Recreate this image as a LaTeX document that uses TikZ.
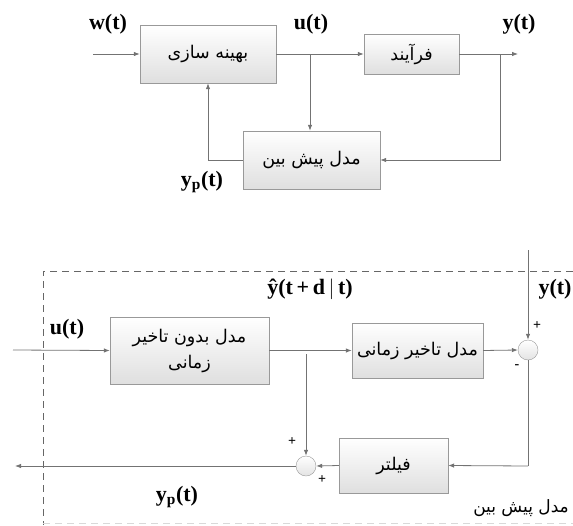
\documentclass[tikz,border=0pt]{standalone}
\usepackage{fontspec}
\setmainfont{Liberation Serif}
\newfontfamily\arabicfont[Script=Arabic]{DejaVu Sans}
\TeXXeTstate=1
\usetikzlibrary{arrows.meta}
\newcommand{\fa}[1]{{\arabicfont\beginR #1\endR}}
\tikzset{
  blk/.style={draw=gray!80, top color=white, bottom color=gray!25, minimum width=#1, inner sep=0pt, font=\fontsize{17.5}{25}\selectfont, align=center},
  sumc/.style={circle, draw=gray!80, top color=white, bottom color=gray!22, minimum size=20pt, inner sep=0pt},
  ln/.style={draw=black!55, line width=0.8pt},
  arr/.style={ln, -{Latex[length=6pt,width=4.5pt]}},
  lab/.style={font=\fontsize{22}{24}\selectfont\bfseries, inner sep=0pt},
  sgn/.style={font=\fontsize{14}{14}\selectfont\bfseries, inner sep=0pt},
}
\begin{document}
\begin{tikzpicture}[x=1pt,y=-1pt]
\useasboundingbox (0,0) rectangle (573,525);
% ---------- top diagram ----------
\node[blk=136pt, minimum height=58pt] (opt) at (208,54) {\fa{بهینه سازی}};
\node[blk=95pt, minimum height=40pt] (proc) at (411.5,54) {\fa{فرآیند}};
\node[blk=137pt, minimum height=58pt] (pred) at (311.5,160) {\fa{مدل پیش بین}};
\coordinate (win) at (93,54);
\coordinate (ub) at (310,54);
\coordinate (yb) at (500,54);
\coordinate (yout) at (518,54);
\draw[arr] (win) -- (opt.west);
\draw[ln] (opt.east) -- (ub);
\draw[arr] (ub) -- (proc.west);
\draw[arr] (ub) -- (ub |- pred.north);
\draw[ln] (proc.east) -- (yb);
\draw[arr] (yb) -- (yout);
\draw[arr] (yb) |- (pred.east);
\draw[arr] (pred.west) -| (opt.south);
\node[lab] (lw) at (108,24) {w(t)};
\node[lab] (lu) at (311,24) {u(t)};
\node[lab] (ly) at (519,24) {y(t)};
\node[lab] (lyp) at (202,182) {y\textsubscript{p}(t)};
% ---------- bottom diagram ----------
\draw[black!60, line width=0.9pt, dash pattern=on 7pt off 5pt] (573,271) -- (43,271) -- (43,525);
\draw[gray!30, line width=0.8pt, dash pattern=on 7pt off 5pt] (43,523) -- (573,523);
\node[blk=159pt, minimum height=67pt] (b1) at (189.5,350.5) {\fa{مدل بدون تاخیر}\\[1pt]\fa{زمانی}};
\node[blk=131pt, minimum height=55pt] (b2) at (417.5,350.5) {\fa{مدل تاخیر زمانی}};
\node[blk=109pt, minimum height=55pt] (filt) at (393.5,465.5) {\fa{فیلتر}};
\node[sumc] (s1) at (528,350) {};
\node[sumc] (s2) at (306,466) {};
\coordinate (uin) at (13,350);
\coordinate (ytop) at (528,250);
\coordinate (br) at (306,354);
\coordinate (fb) at (528,466);
\coordinate (ypout) at (15,466);
\draw[arr] (uin) -- (b1.west);
\draw[arr] (b1.east) -- (b2.west);
\draw[arr] (b2.east) -- (s1.west);
\draw[arr] (ytop) -- (s1.north);
\draw[ln] (s1.south) -- (fb);
\draw[arr] (fb) -- (filt.east);
\draw[arr] (filt.west) -- (s2.east);
\draw[arr] (br) -- (s2.north);
\draw[arr] (s2.west) -- (ypout);
\node[lab] (lyhat) at (310,289) {ŷ(t\,+\,d\,$|$\,t)};
\node[lab] (ly2) at (555,289) {y(t)};
\node[lab] (lu2) at (67,329) {u(t)};
\node[lab] (lyp2) at (177,497) {y\textsubscript{p}(t)};
\node[sgn] (p1) at (537,326) {+};
\node[sgn] (m1) at (517,367) {-};
\node[sgn] (p2) at (292,442) {+};
\node[sgn] (p3) at (322,480) {+};
\node[font=\fontsize{17}{20}\selectfont, anchor=east, inner sep=0pt] (lpred) at (569,508) {\fa{مدل پیش بین}};
\end{tikzpicture}
\end{document}
